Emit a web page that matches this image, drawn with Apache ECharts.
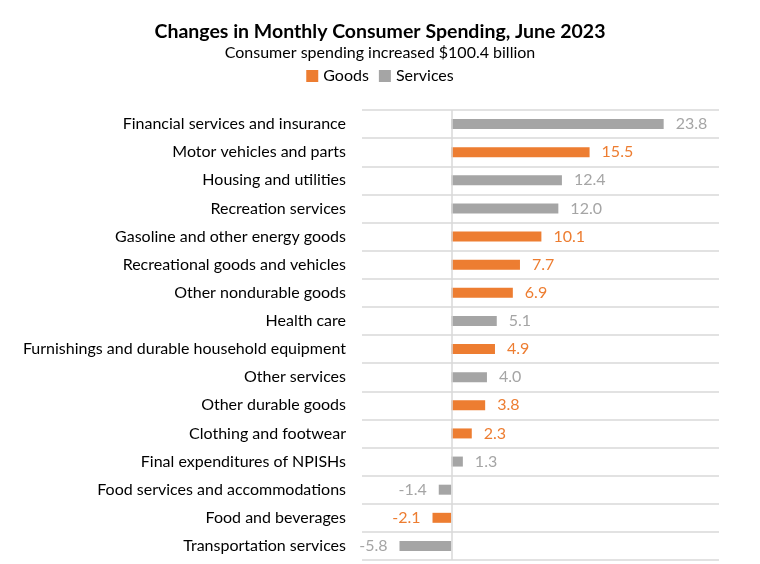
<!DOCTYPE html>
<html><head><meta charset="utf-8">
<script src="https://cdn.jsdelivr.net/npm/echarts@6/dist/echarts.min.js"></script>
<style>html,body{margin:0;padding:0;background:#fff}#c{width:760px;height:564px}</style>
</head><body><div id="c"></div>
<script>
const categories = ["Financial services and insurance","Motor vehicles and parts","Housing and utilities","Recreation services","Gasoline and other energy goods","Recreational goods and vehicles","Other nondurable goods","Health care","Furnishings and durable household equipment","Other services","Other durable goods","Clothing and footwear","Final expenditures of NPISHs","Food services and accommodations","Food and beverages","Transportation services"];
const goods =    [null,15.5,null,null,10.1,7.7,6.9,null,4.9,null,3.8,2.3,null,null,-2.1,null];
const services = [23.8,null,12.4,12.0,null,null,null,5.1,null,4.0,null,null,1.3,-1.4,null,-5.8];
const FONT = 'Lato, "Open Sans", sans-serif';
const ORANGE = '#ED7D31', GRAY = '#A5A5A5';
function mk(arr, color){
  return arr.map(v => v === null ? '-' : {
    value: v,
    label: {show:true, position: v < 0 ? 'left' : 'right', distance: 12, color: color,
      fontFamily: FONT, fontSize: 16, formatter: p => Number(p.value).toFixed(1)}
  });
}
const chart = echarts.init(document.getElementById('c'), null, {renderer:'canvas'});
chart.setOption({
  animation:false,
  title:{text:'Changes in Monthly Consumer Spending, June 2023', subtext:'Consumer spending increased $100.4 billion',
    left:'center', top:17, itemGap:3,
    textStyle:{fontFamily:FONT, fontWeight:'bold', fontSize:19.5, color:'#000'},
    subtextStyle:{fontFamily:FONT, fontSize:16, color:'#000'}},
  legend:{top:63, left:'center', icon:'rect', itemWidth:12, itemHeight:12, itemGap:10,
    textStyle:{fontFamily:FONT, fontSize:16, color:'#000'}, data:['Goods','Services']},
  grid:{left:362, right:41, top:110, bottom:4},
  xAxis:{type:'value', min:-10, max:30, show:false},
  yAxis:{type:'category', data:categories, inverse:true,
    axisLine:{show:false, onZero:false}, axisTick:{show:false},
    splitLine:{show:true, lineStyle:{color:'#D9D9D9', width:1.5}},
    axisLabel:{margin:16, fontFamily:FONT, fontSize:16, color:'#000'}},
  series:[
    {name:'Goods', type:'bar', stack:'s', barWidth:10, itemStyle:{color:ORANGE}, data:mk(goods, ORANGE),
      markLine:{silent:true, symbol:'none', label:{show:false}, lineStyle:{color:'#D9D9D9', type:'solid', width:1.5}, data:[{xAxis:0}]}},
    {name:'Services', type:'bar', stack:'s', barWidth:10, itemStyle:{color:GRAY}, data:mk(services, GRAY)}
  ]
});
</script></body></html>
